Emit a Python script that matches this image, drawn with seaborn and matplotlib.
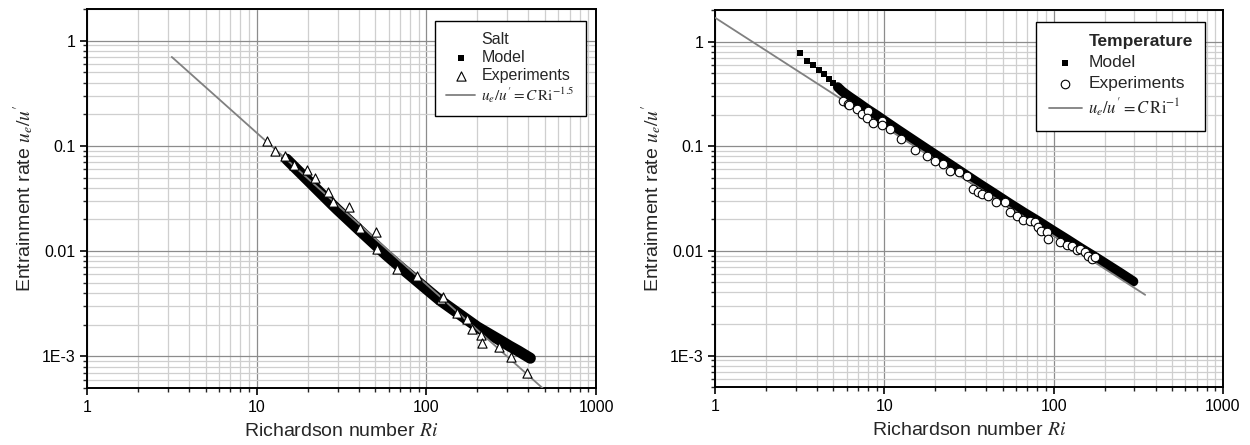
import numpy as np
import matplotlib
matplotlib.use("Agg")
import matplotlib.pyplot as plt
import matplotlib.ticker as mticker
from matplotlib.lines import Line2D
import seaborn as sns

# ---- data ----
# Salt: model (dense squares forming a band)
salt_model_ri = [15, 17, 20, 24, 28, 30, 33, 40, 48, 58, 69, 82, 100, 120, 145, 172,
                 200, 235, 270, 310, 350, 393, 410]
salt_model_val = [0.0748, 0.0612, 0.0472, 0.0352, 0.0275, 0.0247, 0.0214, 0.0160,
                  0.0122, 0.00919, 0.00722, 0.00572, 0.00437, 0.00342, 0.00275,
                  0.00226, 0.0019, 0.00163, 0.00143, 0.00125, 0.00112, 0.00100, 0.00096]
# Salt: experiments (triangles)
salt_exp_ri = [11.5, 12.9, 14.6, 16.5, 19.7, 22.2, 26.2, 28, 34.8, 40.4, 50.8, 51.5,
               67.5, 88.5, 122, 125, 152, 174, 186, 211, 213, 269, 316, 393]
salt_exp_val = [0.111, 0.0895, 0.080, 0.066, 0.059, 0.0495, 0.0365, 0.029, 0.026,
                0.0166, 0.0152, 0.0104, 0.0067, 0.0058, 0.0035, 0.0037, 0.0026,
                0.00225, 0.0018, 0.0016, 0.00133, 0.00122, 0.00098, 0.0007]
# Salt: power-law fit (end points)
salt_fit_ri = [3.16, 520]
salt_fit_val = [0.70, 0.00045]

# Temperature: model
temp_model_ri = [3.18, 3.48, 3.81, 4.13, 4.42, 4.71, 5.0, 5.31, 5.62, 5.95, 6.3, 6.65,
                 7.0, 7.5, 8.0, 9.0, 10, 12, 14, 17, 20, 25, 30, 37, 45, 55, 67, 80,
                 100, 120, 145, 175, 210, 250, 296]
temp_model_val = [0.78, 0.65, 0.595, 0.537, 0.485, 0.44, 0.40, 0.367, 0.336, 0.313,
                  0.293, 0.276, 0.261, 0.241, 0.224, 0.198, 0.176, 0.144, 0.122,
                  0.099, 0.0832, 0.0655, 0.0538, 0.0430, 0.0351, 0.0284, 0.0232,
                  0.0195, 0.0155, 0.0129, 0.0106, 0.0088, 0.0073, 0.0061, 0.0051]
# Temperature: experiments (circles)
temp_exp_ri = [5.73, 6.13, 6.2, 6.87, 7.35, 8.05, 7.94, 8.61, 9.65, 9.65, 10.8, 12.5,
               15.2, 17.8, 19.9, 22.3, 24.4, 27.7, 30.9, 33.6, 35.9, 37.6, 41.2, 45.7,
               51.6, 55.3, 60.5, 66.2, 72.6, 77.6, 81.2, 84, 91, 93, 109, 119.5, 128,
               137, 143, 153, 160, 168, 175]
temp_exp_val = [0.270, 0.251, 0.246, 0.229, 0.202, 0.217, 0.185, 0.168, 0.174, 0.158,
                0.145, 0.118, 0.0916, 0.0809, 0.0724, 0.0674, 0.0582, 0.0561, 0.0514,
                0.0389, 0.0367, 0.0349, 0.0332, 0.0295, 0.0291, 0.0237, 0.0217,
                0.0199, 0.0194, 0.0188, 0.0168, 0.0156, 0.0151, 0.0130, 0.0121,
                0.0114, 0.0112, 0.0101, 0.0104, 0.0098, 0.0090, 0.0084, 0.0087]
# Temperature: power-law fit (end points)
temp_fit_ri = [1.0, 347]
temp_fit_val = [1.69, 0.0038]

x_ticks = [1, 10, 100, 1000]
x_ticklabels = ["1", "10", "100", "1000"]
y_ticks = [1e-3, 1e-2, 1e-1, 1]
y_ticklabels = ["1E-3", "0.01", "0.1", "1"]

sns.set_style("ticks")
plt.rcParams['font.family'] = ['Liberation Sans', 'DejaVu Sans']
plt.rcParams['mathtext.fontset'] = 'stix'

fig = plt.figure(figsize=(12.5, 4.45), dpi=100)
ax1 = fig.add_axes([0.0696, 0.1281, 0.4072, 0.8517])
ax2 = fig.add_axes([0.572, 0.1303, 0.4064, 0.8472])


def style_axes(ax):
    ax.set_xscale('log')
    ax.set_yscale('log')
    ax.set_xlim(1, 1000)
    ax.set_ylim(5e-4, 2)
    ax.xaxis.set_major_locator(mticker.FixedLocator(x_ticks))
    ax.xaxis.set_major_formatter(mticker.FixedFormatter(x_ticklabels))
    ax.yaxis.set_major_locator(mticker.FixedLocator(y_ticks))
    ax.yaxis.set_major_formatter(mticker.FixedFormatter(y_ticklabels))
    ax.xaxis.set_minor_locator(mticker.LogLocator(base=10, subs=np.arange(2, 10), numticks=20))
    ax.yaxis.set_minor_locator(mticker.LogLocator(base=10, subs=np.arange(2, 10), numticks=20))
    ax.xaxis.set_minor_formatter(mticker.NullFormatter())
    ax.yaxis.set_minor_formatter(mticker.NullFormatter())
    ax.grid(which='major', color='#8c8c8c', linewidth=0.9)
    ax.grid(which='minor', color='#cfcfcf', linewidth=0.9)
    ax.set_axisbelow(True)
    ax.tick_params(which='major', direction='out', length=5, width=1.2, labelsize=11.5,
                   colors='black', top=False, right=False)
    ax.tick_params(which='minor', direction='out', length=3, width=1.0,
                   top=False, right=False)
    for sp in ax.spines.values():
        sp.set_visible(True)
        sp.set_linewidth(1.4)
        sp.set_color('black')
    ax.set_xlabel("Richardson number $Ri$", fontsize=14, labelpad=6)
    ax.set_ylabel("Entrainment rate $u_e/u'$", fontsize=14, labelpad=4)


for ax in (ax1, ax2):
    style_axes(ax)

# ---- Salt panel ----
sns.lineplot(x=salt_model_ri, y=salt_model_val, ax=ax1, color='black', linewidth=8,
             sort=False, estimator=None, zorder=2)
sns.scatterplot(x=salt_model_ri, y=salt_model_val, ax=ax1, marker='s', s=22,
                color='black', edgecolor='black', linewidth=0, zorder=2, label='Model')
sns.lineplot(x=salt_fit_ri, y=salt_fit_val, ax=ax1, color='#808080', linewidth=1.3,
             sort=False, estimator=None, zorder=3, label=r"$u_e/u' = C\,\mathrm{Ri}^{-1.5}$")
sns.scatterplot(x=salt_exp_ri, y=salt_exp_val, ax=ax1, marker='^', s=44,
                color='white', edgecolor='black', linewidth=0.8, zorder=4, label='Experiments')

# ---- Temperature panel ----
band = [i for i, r in enumerate(temp_model_ri) if r >= 5.3]
sns.lineplot(x=[temp_model_ri[i] for i in band], y=[temp_model_val[i] for i in band],
             ax=ax2, color='black', linewidth=7, sort=False, estimator=None, zorder=2)
sns.scatterplot(x=temp_model_ri, y=temp_model_val, ax=ax2, marker='s', s=24,
                color='black', edgecolor='black', linewidth=0, zorder=2, label='Model')
sns.lineplot(x=temp_fit_ri, y=temp_fit_val, ax=ax2, color='#808080', linewidth=1.3,
             sort=False, estimator=None, zorder=3, label=r"$u_e/u' = C\,\mathrm{Ri}^{-1}$")
sns.scatterplot(x=temp_exp_ri, y=temp_exp_val, ax=ax2, marker='o', s=38,
                color='white', edgecolor='black', linewidth=0.8, zorder=4, label='Experiments')


def make_legend(ax, title, anchor, fs, fs_formula, spacing, hlen, bold=False):
    h, l = ax.get_legend_handles_labels()
    order = [l.index('Model'), l.index('Experiments')]
    order += [i for i in range(len(l)) if i not in order]
    handles = [Line2D([], [], linestyle='none')] + [h[i] for i in order]
    labels = [title] + [l[i] for i in order]
    leg = ax.legend(handles, labels, loc='upper right', bbox_to_anchor=anchor,
                    fontsize=fs, frameon=True, fancybox=False, framealpha=1,
                    edgecolor='black', handlelength=hlen, handletextpad=0.4,
                    borderpad=0.7, labelspacing=spacing, borderaxespad=0)
    leg.get_frame().set_linewidth(1.0)
    if bold:
        leg.get_texts()[0].set_fontweight('bold')
    leg.get_texts()[-1].set_fontsize(fs_formula)
    return leg


make_legend(ax1, 'Salt', (0.980, 0.968), fs=11.5, fs_formula=11, spacing=0.17, hlen=1.8)
make_legend(ax2, 'Temperature', (0.9646, 0.968), fs=12.5, fs_formula=12,
            spacing=0.33, hlen=1.9, bold=True)

fig.savefig('out.png', dpi=100)
